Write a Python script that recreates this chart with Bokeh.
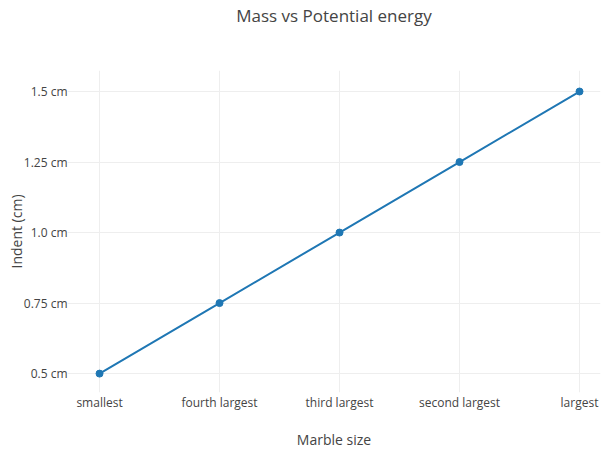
from bokeh.plotting import figure
from bokeh.embed import file_html
from bokeh.resources import INLINE
from bokeh.models import Range1d, FixedTicker, LinearAxis

categories = ["smallest", "fourth largest", "third largest", "second largest", "largest"]
indent_cm = [0.5, 0.75, 1.0, 1.25, 1.5]
y_ticks = [0.5, 0.75, 1.0, 1.25, 1.5]
y_tick_labels = ["0.5 cm", "0.75 cm", "1.0 cm", "1.25 cm", "1.5 cm"]
title_text = "Mass vs Potential energy"

FONT = "Open Sans"
TXT = "#444444"

p = figure(width=601, height=451, output_backend="svg", toolbar_location=None,
           x_range=Range1d(-0.267, 4.175), y_range=Range1d(0.433, 1.5745),
           min_border_left=67, min_border_right=1, min_border_top=70, min_border_bottom=59)

xs = list(range(len(categories)))
p.line(xs, indent_cm, line_color="#1f77b4", line_width=2)
p.scatter(xs, indent_cm, size=7, fill_color="#1f77b4", line_color="#1f77b4")

p.outline_line_color = None
p.background_fill_color = "white"
p.border_fill_color = "white"

p.xaxis.ticker = FixedTicker(ticks=xs)
p.xaxis.major_label_overrides = {i: c for i, c in enumerate(categories)}
p.yaxis.ticker = FixedTicker(ticks=y_ticks)
p.yaxis.major_label_overrides = {t: l for t, l in zip(y_ticks, y_tick_labels)}

for ax in (p.xaxis, p.yaxis):
    ax.axis_line_color = None
    ax.major_tick_line_color = None
    ax.minor_tick_line_color = None
    ax.major_label_text_font = FONT
    ax.major_label_text_font_size = "12px"
    ax.major_label_text_color = TXT
    ax.axis_label_text_font = FONT
    ax.axis_label_text_font_size = "14px"
    ax.axis_label_text_color = TXT
    ax.axis_label_text_font_style = "normal"

p.xaxis.axis_label = "Marble size"
p.yaxis.axis_label = "Indent (cm)"
p.xaxis.major_label_standoff = -5
p.yaxis.major_label_standoff = -6
p.xaxis.axis_label_standoff = 16
p.yaxis.axis_label_standoff = -5

p.xgrid.grid_line_color = "#eeeeee"
p.ygrid.grid_line_color = "#eeeeee"

title_axis = LinearAxis(ticker=FixedTicker(ticks=[]), axis_label=title_text,
                        axis_line_color=None, major_tick_line_color=None,
                        minor_tick_line_color=None, major_tick_out=0, minor_tick_out=0,
                        axis_label_standoff=44, axis_label_text_font=FONT,
                        axis_label_text_font_size="17px", axis_label_text_color=TXT,
                        axis_label_text_font_style="normal")
p.add_layout(title_axis, "above")

open("out.html", "w").write(file_html(p, INLINE))
